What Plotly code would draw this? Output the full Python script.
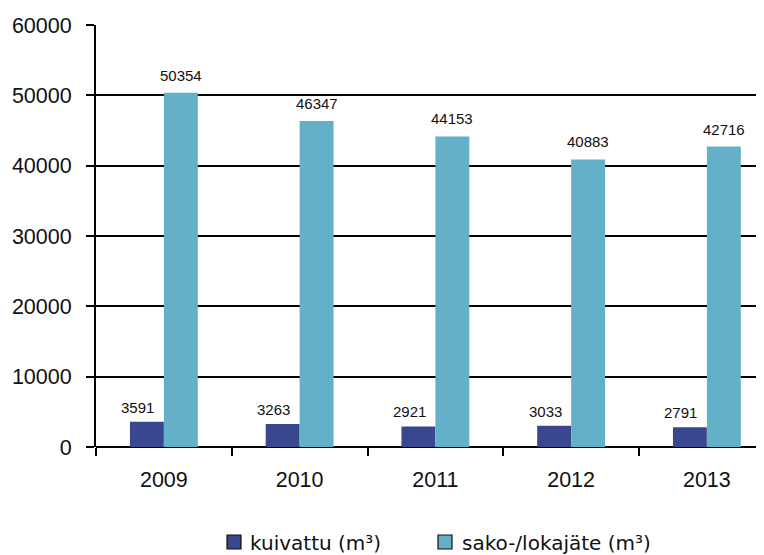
import plotly.graph_objects as go

years = ["2009", "2010", "2011", "2012", "2013"]
kuivattu = [3591, 3263, 2921, 3033, 2791]
sako = [50354, 46347, 44153, 40883, 42716]
y_ticks = [0, 10000, 20000, 30000, 40000, 50000, 60000]
series_names = ["kuivattu (m³)", "sako-/lokajäte (m³)"]
colors = ["#39478f", "#64b0c8"]

font_family = "Liberation Sans, Arial, Helvetica, sans-serif"

# page offset (browser body margin)
OFF = 8
FIG_W, FIG_H = 764 - OFF, 555 - OFF
# pixel geometry of the plot area in page pixels
L, R, T, B = 96, 764, 25, 447
W, H = R - L, B - T


def px_x(p):
    return (p - L) / W


def px_y(p):
    return (B - p) / H


fig = go.Figure()
fig.add_trace(go.Bar(x=years, y=kuivattu, name=series_names[0],
                     marker=dict(color=colors[0], line=dict(width=0)), showlegend=False))
fig.add_trace(go.Bar(x=years, y=sako, name=series_names[1],
                     marker=dict(color=colors[1], line=dict(width=0)), showlegend=False))

annotations = []
for i, v in enumerate(kuivattu):
    annotations.append(dict(x=i, y=v, xref="x", yref="y", text=str(v), showarrow=False,
                            xanchor="center", yanchor="bottom", xshift=-26, yshift=4,
                            font=dict(size=15, color="#111", family=font_family)))
for i, v in enumerate(sako):
    annotations.append(dict(x=i, y=v, xref="x", yref="y", text=str(v), showarrow=False,
                            xanchor="center", yanchor="bottom", xshift=17, yshift=7,
                            font=dict(size=15, color="#111", family=font_family)))

# manual legend
legend_items = [(227, 248), (438, 460)]
shapes = []
for (sq_x, tx_x), name, col in zip(legend_items, series_names, colors):
    shapes.append(dict(type="rect", xref="paper", yref="paper",
                       x0=px_x(sq_x), x1=px_x(sq_x + 14), y0=px_y(549), y1=px_y(535),
                       fillcolor=col, line=dict(color="#111", width=1.2)))
    annotations.append(dict(x=px_x(tx_x), y=px_y(543), xref="paper", yref="paper",
                            text=name, showarrow=False, xanchor="left", yanchor="middle",
                            font=dict(size=20, color="#111", family="DejaVu Sans, sans-serif")))

fig.update_layout(
    width=FIG_W, height=FIG_H,
    margin=dict(l=L - OFF, r=764 - R, t=T - OFF, b=555 - B, autoexpand=False),
    paper_bgcolor="white", plot_bgcolor="white",
    barmode="group", bargap=0.5, bargroupgap=0,
    font=dict(family=font_family, size=21.5, color="#111"),
    showlegend=False,
    annotations=annotations,
    shapes=shapes,
)
fig.update_xaxes(
    type="category", range=[-0.5, -0.5 + W / 135.75], automargin=False,
    showgrid=False, showline=False, zeroline=False,
    ticks="outside", ticklen=8, tickwidth=2, tickcolor="black",
    tickson="boundaries", tickfont=dict(size=21.5), ticklabelstandoff=17,
)
fig.update_yaxes(
    range=[0, 60000], tickvals=y_ticks, ticktext=[str(v) for v in y_ticks], automargin=False,
    showgrid=True, gridcolor="black", gridwidth=2,
    showline=True, linecolor="black", linewidth=2,
    zeroline=True, zerolinecolor="black", zerolinewidth=2,
    ticks="outside", ticklen=8, tickwidth=2, tickcolor="black",
    tickfont=dict(size=21.5), ticklabelstandoff=10,
)

fig.write_html("out.html")
